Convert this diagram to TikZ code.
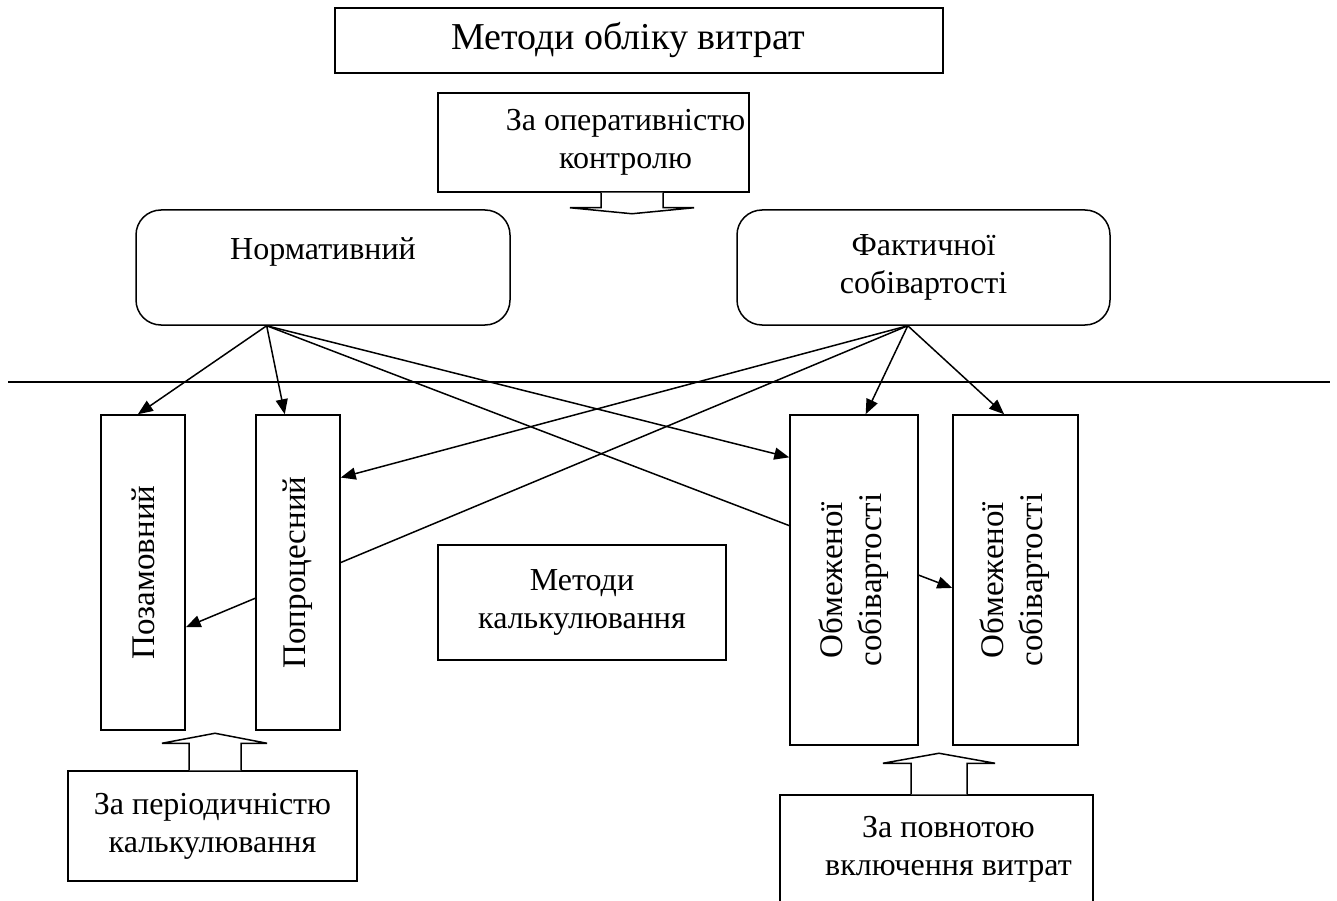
\documentclass[tikz,border=0pt]{standalone}
\usepackage{fontspec}
\setmainfont{Liberation Serif}
\usetikzlibrary{positioning,calc,arrows.meta,backgrounds}

\begin{document}
\begin{tikzpicture}[x=1pt, y=-1pt, >={Triangle[length=15pt,width=12pt]}, line width=1.5pt]
  \tikzstyle{box} = [draw, rectangle, fill=white, align=center, inner sep=0pt, font=\fontsize{32}{38}\selectfont]
  \tikzstyle{rbox} = [box, rounded corners=25pt]
  \tikzstyle{conn} = [->, line width=1.5pt]
  \tikzstyle{hollow} = [draw, fill=white, line join=miter]
  \useasboundingbox (0,0) rectangle (1337,901);
  \clip (0,0) rectangle (1337,901);

  \node [box, minimum width=608pt, minimum height=65pt, font=\fontsize{38}{42}\selectfont] (title) at (639,40.5) {\hspace*{-22pt}Методи обліку витрат};
  \node [box, minimum width=311pt, minimum height=99pt] (oper) at (593.5,142.5) {\hspace*{64pt}За оперативністю\\\hspace*{64pt}контролю};
  \node [rbox, minimum width=374pt, minimum height=115pt] (norm) at (323,267.5) {Нормативний\\\mbox{}};
  \node [rbox, minimum width=373pt, minimum height=115pt] (fakt) at (923.5,267.5) {Фактичної\\собівартості};

  \draw (8,382) -- (1330,382);

  \node [box, minimum width=84pt, minimum height=315pt, font=\fontsize{33}{39}\selectfont] (zam) at (143,572.5) {\rotatebox{90}{Позамовний}};
  \node [box, minimum width=84pt, minimum height=315pt, font=\fontsize{33}{39}\selectfont] (proc) at (298,572.5) {\rotatebox{90}{Попроцесний}};
  \node [box, minimum width=288pt, minimum height=115pt] (metk) at (582,602.5) {Методи\\калькулювання};
  \node [box, minimum width=128pt, minimum height=330pt, font=\fontsize{33}{39}\selectfont] (obm1) at (854,580) {\rotatebox{90}{\begin{tabular}{@{}c@{}}Обмеженої\\собівартості\end{tabular}}};
  \node [box, minimum width=125pt, minimum height=330pt, font=\fontsize{33}{39}\selectfont] (obm2) at (1015.5,580) {\rotatebox{90}{\begin{tabular}{@{}c@{}}Обмеженої\\собівартості\end{tabular}}};
  \node [box, minimum width=289pt, minimum height=110pt] (period) at (212.5,826) {За періодичністю\\калькулювання};
  \node [box, minimum width=313pt, minimum height=108pt] (povn) at (936.5,849) {\hspace*{24pt}За повнотою\\\hspace*{24pt}включення витрат};

  \coordinate (nsrc) at ($(norm.south west)!0.35!(norm.south east)$);
  \coordinate (fsrc) at ($(fakt.south west)!0.458!(fakt.south east)$);

  % lines run behind the boxes
  \begin{scope}[on background layer]
    \draw [conn] (nsrc) -- ($(zam.north west)!0.44!(zam.north east)$);
    \draw [conn] (nsrc) -- ($(proc.north west)!0.345!(proc.north east)$);
    \draw [conn] (nsrc) -- ($(obm1.north west)!0.13!(obm1.south west)$);
    \draw [conn] (nsrc) -- ($(obm2.north west)!0.524!(obm2.south west)$);
    \draw [conn] (fsrc) -- ($(proc.north east)!0.2!(proc.south east)$);
    \draw [conn] (fsrc) -- ($(zam.north east)!0.673!(zam.south east)$);
    \draw [conn] (fsrc) -- ($(obm1.north west)!0.59!(obm1.north east)$);
    \draw [conn] (fsrc) -- ($(obm2.north west)!0.41!(obm2.north east)$);
  \end{scope}

  \draw [hollow, shift={(oper.south)}] (7.5,0) -- (7.5,15) -- (-23.5,15) -- (38.5,21) -- (100.5,15) -- (69.5,15) -- (69.5,0);
  \draw [hollow, shift={(period.north)}] (-23.5,0) -- (-23.5,-27) -- (-50.5,-27) -- (2.5,-37) -- (54.5,-27) -- (28.5,-27) -- (28.5,0);
  \draw [hollow, shift={(povn.north)}] (-25.5,0) -- (-25.5,-31) -- (-53.5,-31) -- (2.5,-41) -- (58.5,-31) -- (30.5,-31) -- (30.5,0);
\end{tikzpicture}
\end{document}
